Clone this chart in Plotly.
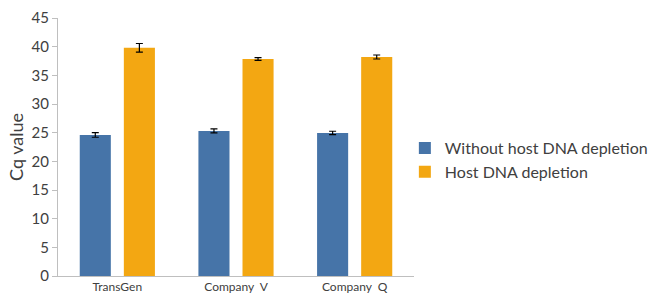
import plotly.graph_objects as go

categories = ["TransGen", "Company  V", "Company  Q"]
series_names = ["Without host DNA depletion", "Host DNA depletion"]
without_vals = [24.6, 25.3, 24.95]
without_err = [0.4, 0.35, 0.3]
host_vals = [39.8, 37.85, 38.2]
host_err = [0.75, 0.25, 0.35]
y_ticks = [0, 5, 10, 15, 20, 25, 30, 35, 40, 45]

colors = ["#4674a8", "#f3a712"]
font_family = "Lato, 'DejaVu Sans', sans-serif"

fig = go.Figure()
for name, vals, errs, c in [
    (series_names[0], without_vals, without_err, colors[0]),
    (series_names[1], host_vals, host_err, colors[1]),
]:
    fig.add_trace(go.Bar(
        x=categories, y=vals, name=name,
        marker=dict(color=c, line=dict(width=0)),
        error_y=dict(type="data", array=errs, visible=True,
                     color="#000000", thickness=1.2, width=3.5),
    ))

fig.update_layout(
    width=653, height=297,
    margin=dict(l=58, r=239, t=18, b=21, autoexpand=False),
    paper_bgcolor="white", plot_bgcolor="white",
    barmode="group", bargap=0.257, bargroupgap=0.295,
    font=dict(family=font_family, color="#404040"),
    legend=dict(xref="container", yref="container", x=0.62, y=0.461,
                xanchor="left", yanchor="middle",
                font=dict(size=16, color="#404040"),
                itemwidth=30, tracegroupgap=0, traceorder="normal"),
    xaxis=dict(showline=True, linecolor="#bfbfbf", linewidth=1,
               ticks="", tickfont=dict(size=12, color="#404040"),
               showgrid=False),
    yaxis=dict(range=[0, 45], tickvals=y_ticks, showline=True,
               linecolor="#bfbfbf", linewidth=1, ticks="outside",
               ticklen=5, tickcolor="#bfbfbf", showgrid=False,
               zeroline=False,
               tickfont=dict(size=15, color="#404040"),
               title=dict(text="Cq value", font=dict(size=18, color="#404040"),
                          standoff=3)),
)

fig.write_html("out.html",
               config={"displayModeBar": False},
               post_script="document.body.style.margin='0';document.body.style.overflow='hidden';")
